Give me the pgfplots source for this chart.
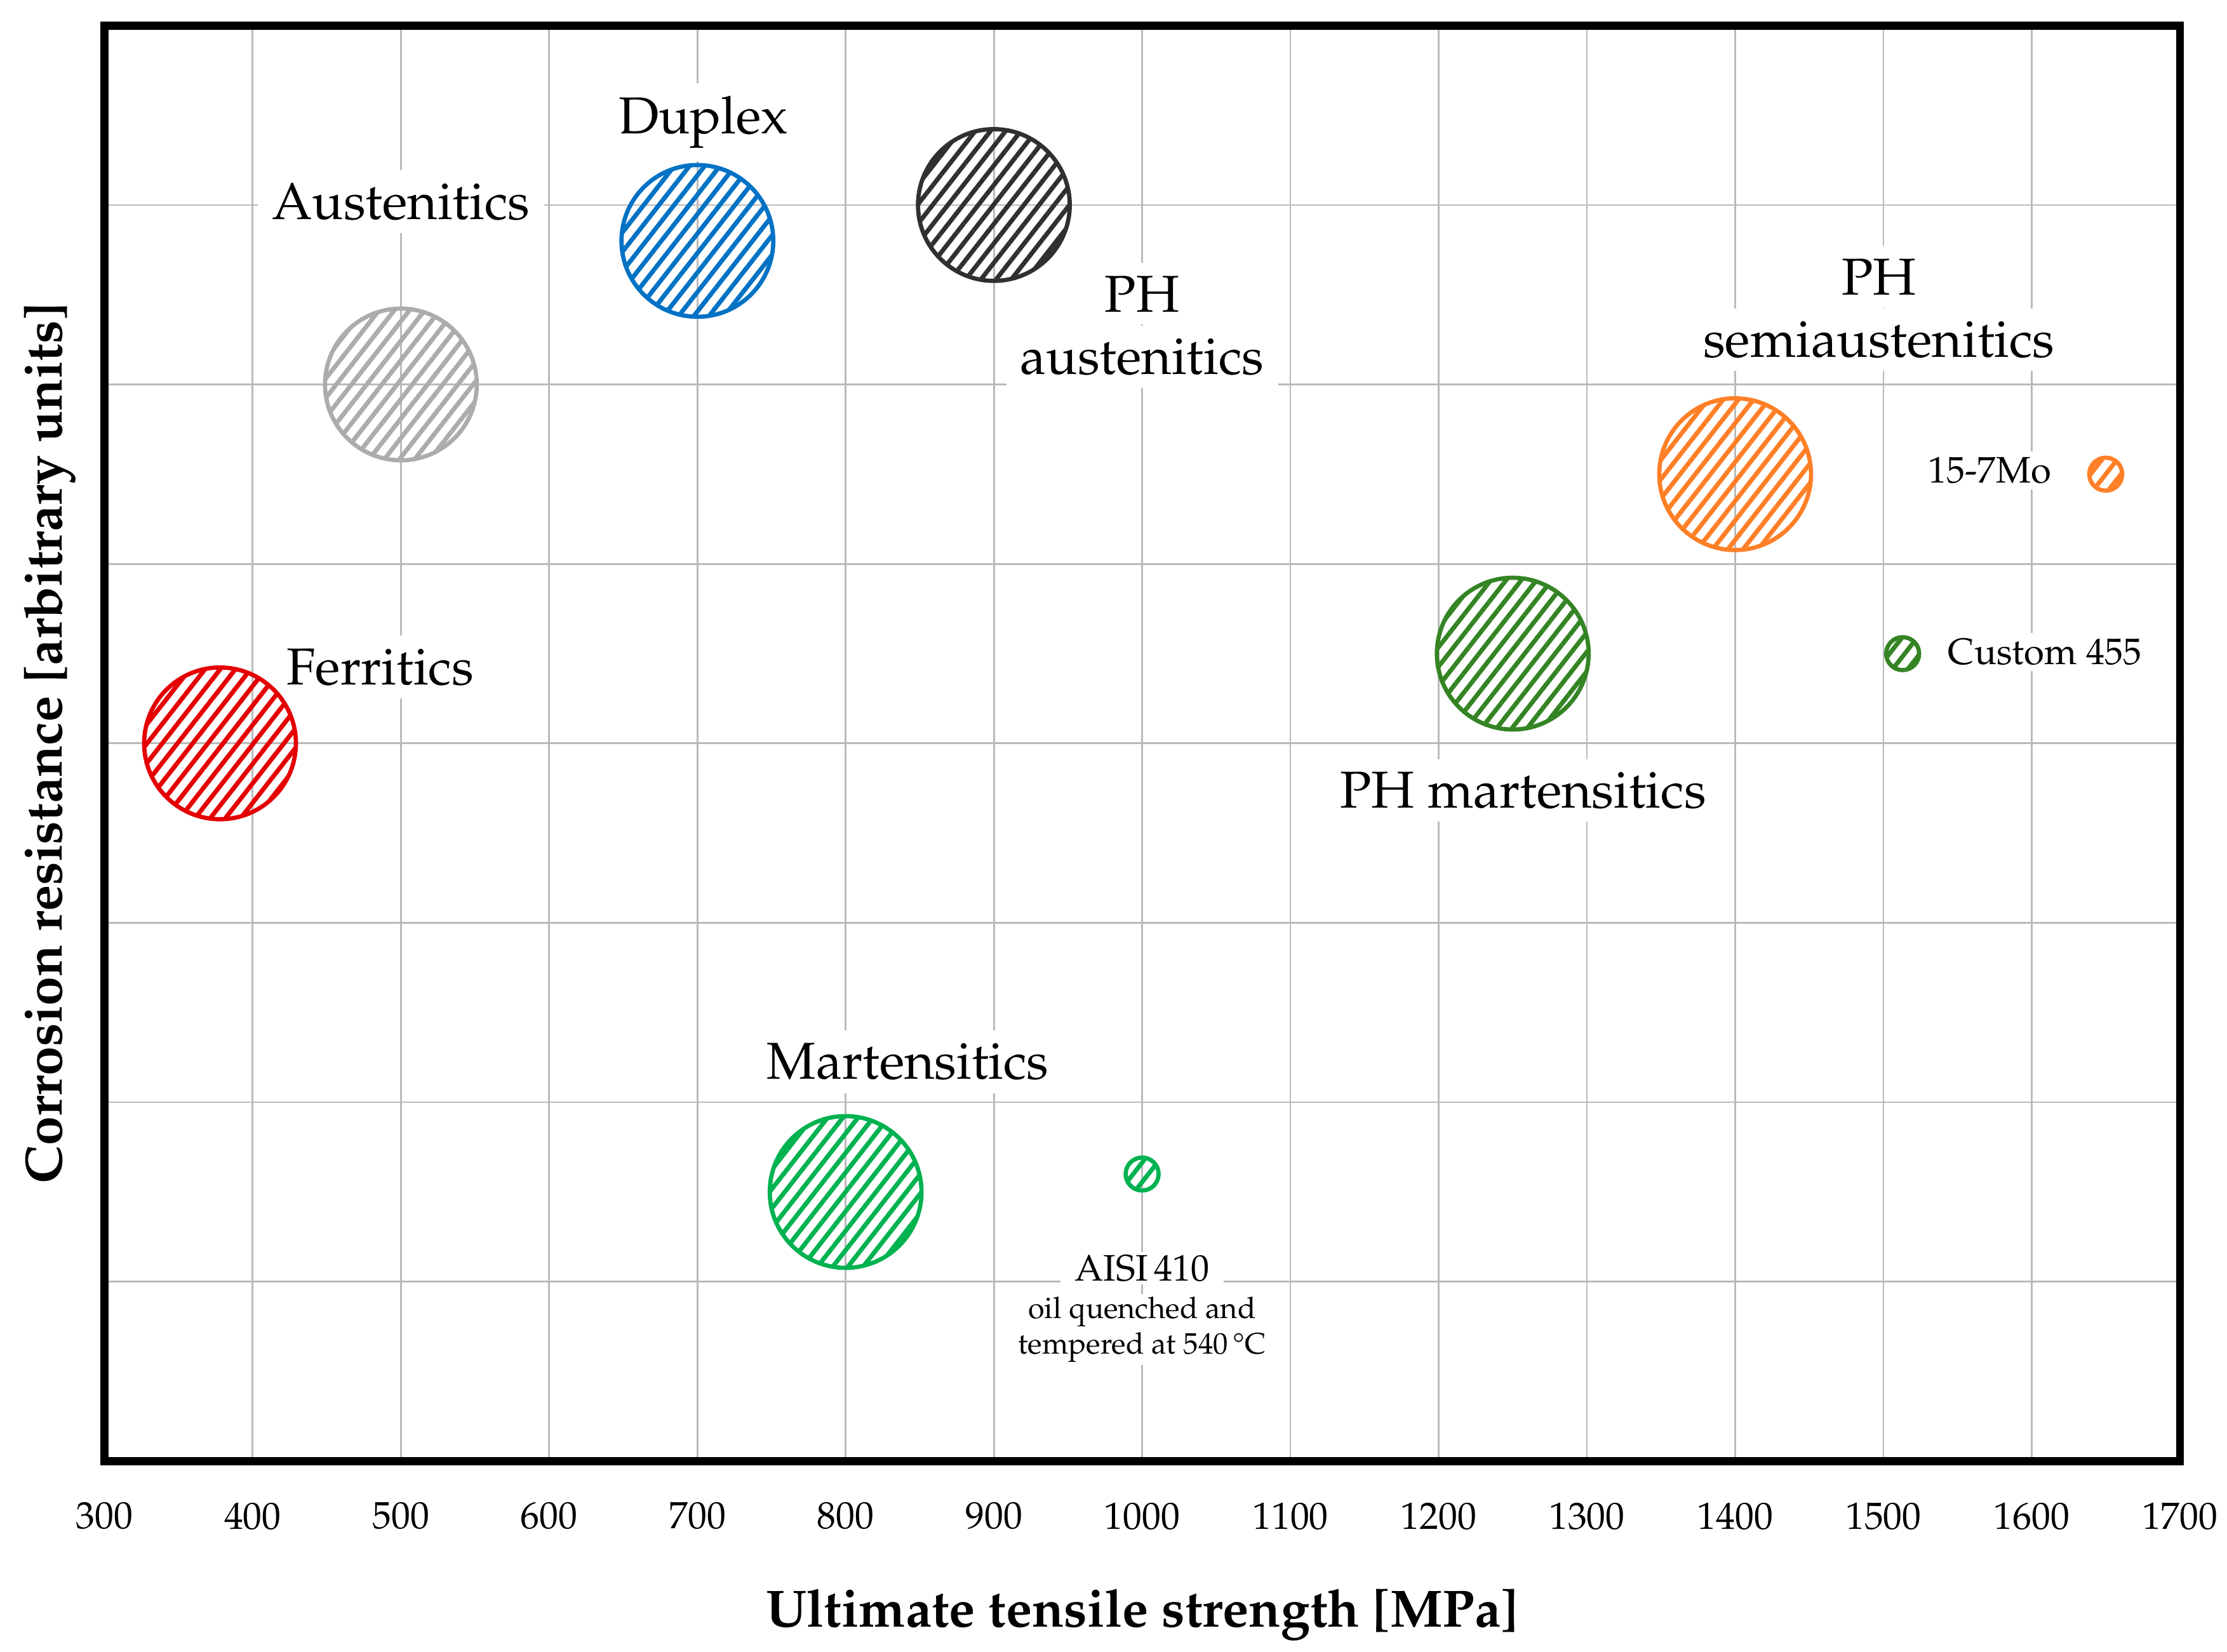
\documentclass[border=0pt]{standalone}
\usepackage[T1]{fontenc}
\usepackage{mathpazo}
\usepackage{pgfplots}
\pgfplotsset{compat=1.18}
\usetikzlibrary{patterns.meta}

% colours of the steel families
\definecolor{cFer}{RGB}{228,0,0}
\definecolor{cAus}{RGB}{172,172,172}
\definecolor{cDup}{RGB}{0,114,196}
\definecolor{cPHA}{RGB}{48,48,48}
\definecolor{cPHS}{RGB}{255,127,39}
\definecolor{cPHM}{RGB}{52,132,36}
\definecolor{cMar}{RGB}{0,178,80}

\pgfplotsset{
  hatch/.style={only marks, mark=*, mark size=15.2pt,
    mark options={draw=#1, line width=0.85pt,
      pattern={Lines[angle=52,distance=2.4pt,line width=0.9pt]},
      pattern color=#1}},
  smallhatch/.style={hatch=#1, mark size=3.3pt},
}
\tikzset{
  lbl/.style={fill=white, inner xsep=1mm, inner ysep=0.9mm, anchor=base,
    font=\fontsize{10.4}{12.5}\selectfont},
  slbl/.style={fill=white, inner xsep=1mm, inner ysep=0.4mm, anchor=base,
    font=\fontsize{7.4}{9}\selectfont},
}

\begin{document}
\begin{tikzpicture}
\begin{axis}[
    name=ax,
    scale only axis,
    width=146.13mm, height=101.1mm,
    xmin=300, xmax=1700, ymin=0, ymax=8,
    xtick={300,400,...,1700},
    ytick={0,1,...,8},
    yticklabels={},
    major tick length=0pt,
    grid=major,
    major grid style={line width=0.35pt, black!27},
    axis line style={line width=1.6pt, black},
    /pgf/number format/1000 sep={},
    xticklabel style={font=\fontsize{7.6}{9}\selectfont, yshift=-1.67mm},
    xlabel={\bfseries Ultimate tensile strength [MPa]},
    ylabel={\bfseries Corrosion resistance [arbitrary units]},
    every axis x label/.style={at={(axis description cs:0.5,-0.1153)}, anchor=base,
      font=\fontsize{10.5}{13}\selectfont},
    every axis y label/.style={at={(axis description cs:-0.0205,0.5)}, anchor=base,
      rotate=90, font=\fontsize{10.5}{13}\selectfont},
]

% families
\addplot[hatch=cFer] coordinates {(378,4.0)};
\addplot[hatch=cAus] coordinates {(500,6.0)};
\addplot[hatch=cDup] coordinates {(700,6.8)};
\addplot[hatch=cPHA] coordinates {(900,7.0)};
\addplot[hatch=cPHS] coordinates {(1400,5.5)};
\addplot[hatch=cPHM] coordinates {(1250,4.5)};
\addplot[hatch=cMar] coordinates {(800,1.5)};

% single grades
\addplot[smallhatch=cMar] coordinates {(1000,1.6)};
\addplot[smallhatch=cPHS] coordinates {(1650,5.5)};
\addplot[smallhatch=cPHM] coordinates {(1513,4.5)};

% labels
\node[lbl] at (axis cs:704,7.398) {Duplex};
\node[lbl] at (axis cs:500,6.921) {Austenitics};
\node[lbl] at (axis cs:1000,6.057) {austenitics};
\node[lbl] at (axis cs:1000,6.405) {PH};
\node[lbl] at (axis cs:1497,6.152) {semiaustenitics};
\node[lbl] at (axis cs:1497,6.500) {PH};
\node[lbl] at (axis cs:1257,3.640) {PH martensitics};
\node[lbl] at (axis cs:486,4.328) {Ferritics};
\node[lbl] at (axis cs:842,2.128) {Martensitics};
\node[slbl, anchor=base east] at (axis cs:1623.3,5.451) {15-7Mo};
\node[slbl, anchor=base west] at (axis cs:1533.4,4.439) {Custom 455};
\node[slbl, inner ysep=0.2mm, font=\fontsize{5.95}{7}\selectfont] at (axis cs:1000,0.599) {tempered at 540\,\textdegree C};
\node[slbl, inner ysep=0.2mm, font=\fontsize{5.95}{7}\selectfont] at (axis cs:1000,0.796) {oil quenched and};
\node[slbl, inner ysep=0.2mm] at (axis cs:1000,1.006) {AISI\,410};
\end{axis}
\pgfresetboundingbox
\path ([shift={(-7.35mm,-13.4mm)}]ax.south west) rectangle ([shift={(3.32mm,1.8mm)}]ax.north east);
\end{tikzpicture}
\end{document}
